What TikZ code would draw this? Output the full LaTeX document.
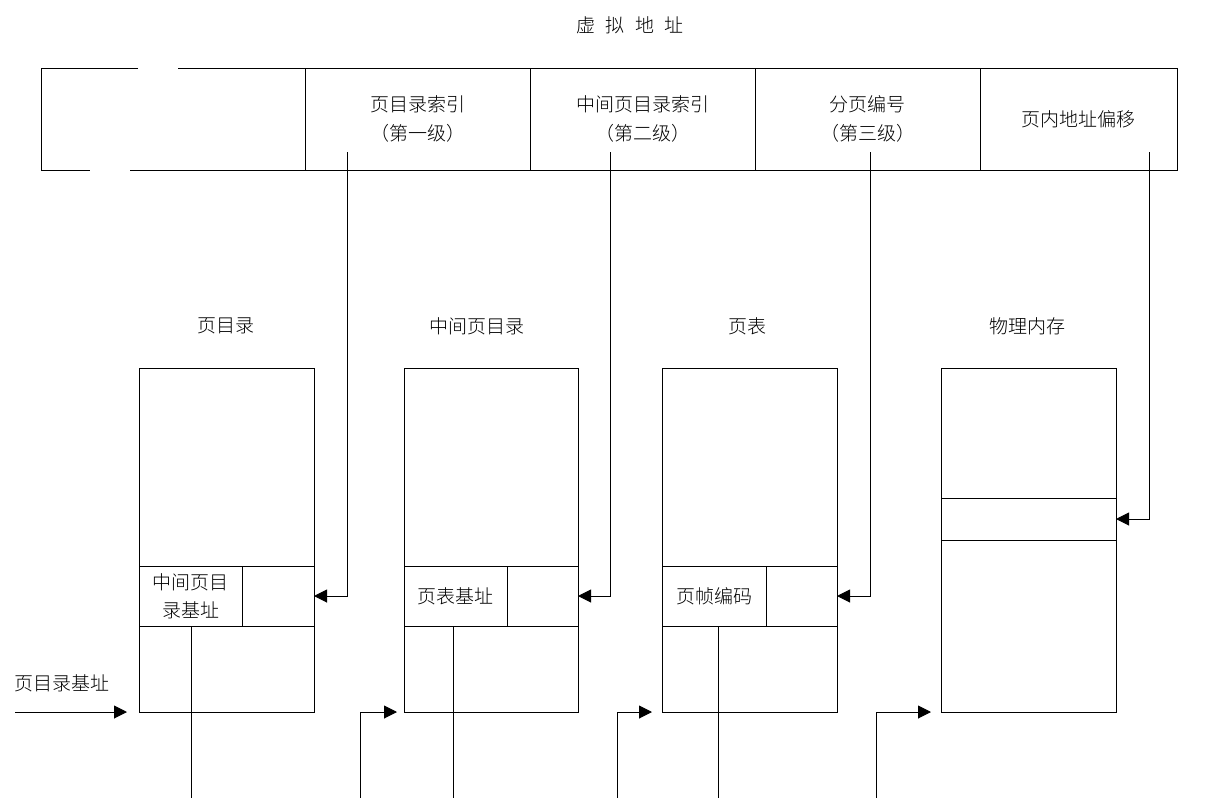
\documentclass[tikz,border=0pt]{standalone}
\usepackage{fontspec}
\setmainfont{Noto Sans CJK SC}[UprightFont=* Light]
\usetikzlibrary{arrows.meta}
\begin{document}
\begin{tikzpicture}[x=1pt,y=-1pt, line width=1pt,
  cell/.style={draw, inner sep=0pt, outer sep=0pt, anchor=north west, align=center, font=\fontsize{19}{29}\selectfont},
  lbl/.style={inner sep=0pt, font=\fontsize{19}{29}\selectfont},
  arr/.style={-{Triangle[length=13pt,width=13pt]}}]
\useasboundingbox (0,0) rectangle (1208,798);
% title
\node[lbl] (title) at (630,25) {虚\hspace{0.55em}拟\hspace{0.55em}地\hspace{0.55em}址};
% virtual address
\draw (138,68) -- (41,68) -- (41,170) -- (90,170);
\draw (130,170) -- (305,170);
\draw (178,68) -- (305,68);
\node[cell, minimum width=225, minimum height=102] (va2) at (305,68) {页目录索引\\（第一级）};
\node[cell, minimum width=225, minimum height=102] (va3) at (530,68) {中间页目录索引\\（第二级）};
\node[cell, minimum width=225, minimum height=102] (va4) at (755,68) {分页编号\\（第三级）};
\node[cell, minimum width=197, minimum height=102] (va5) at (980,68) {页内地址偏移};
% headings
\node[lbl] (h1) at (226,326) {页目录};
\node[lbl] (h2) at (477,326) {中间页目录};
\node[lbl] (h3) at (747,326) {页表};
\node[lbl] (h4) at (1027,326) {物理内存};
% tables
\node[cell, minimum width=175, minimum height=344] (pd) at (139,368) {};
\node[cell, minimum width=103, minimum height=60, font=\fontsize{19}{28}\selectfont] (pde) at (139,566) {中间页目\\录基址};
\node[cell, minimum width=72, minimum height=60] (pds) at (242,566) {};
\node[cell, minimum width=174, minimum height=344] (pmd) at (404,368) {};
\node[cell, minimum width=103, minimum height=60] (pmde) at (404,566) {页表基址};
\node[cell, minimum width=71, minimum height=60] (pmds) at (507,566) {};
\node[cell, minimum width=175, minimum height=344] (pt) at (662,368) {};
\node[cell, minimum width=104, minimum height=60] (pte) at (662,566) {页帧编码};
\node[cell, minimum width=71, minimum height=60] (pts) at (766,566) {};
\node[cell, minimum width=175, minimum height=344] (mem) at (941,368) {};
\node[cell, minimum width=175, minimum height=42] (memf) at (941,498) {};
% index arrows
\coordinate (s1) at (347,152);
\coordinate (s2) at (610,152);
\coordinate (s3) at (870,152);
\coordinate (s4) at (1149,152);
\draw[arr] (s1) |- (pds.east);
\draw[arr] (s2) |- (pmds.east);
\draw[arr] (s3) |- (pts.east);
\draw[arr] (s4) |- (memf.east);
% outgoing lines
\coordinate (b1) at (191,798);
\coordinate (b2) at (453,798);
\coordinate (b3) at (718,798);
\draw (pde.south -| b1) -- (b1);
\draw (pmde.south -| b2) -- (b2);
\draw (pte.south -| b3) -- (b3);
% incoming arrows
\coordinate (c1) at (15,712);
\coordinate (c2) at (360,798);
\coordinate (c3) at (617,798);
\coordinate (c4) at (876,798);
\node[lbl] (base) at (62,683) {页目录基址};
\draw[arr, shorten >=12pt] (c1) -- (pd.south west);
\draw[arr, shorten >=7pt] (c2) |- (pmd.south west);
\draw[arr, shorten >=10pt] (c3) |- (pt.south west);
\draw[arr, shorten >=10pt] (c4) |- (mem.south west);
\end{tikzpicture}
\end{document}
